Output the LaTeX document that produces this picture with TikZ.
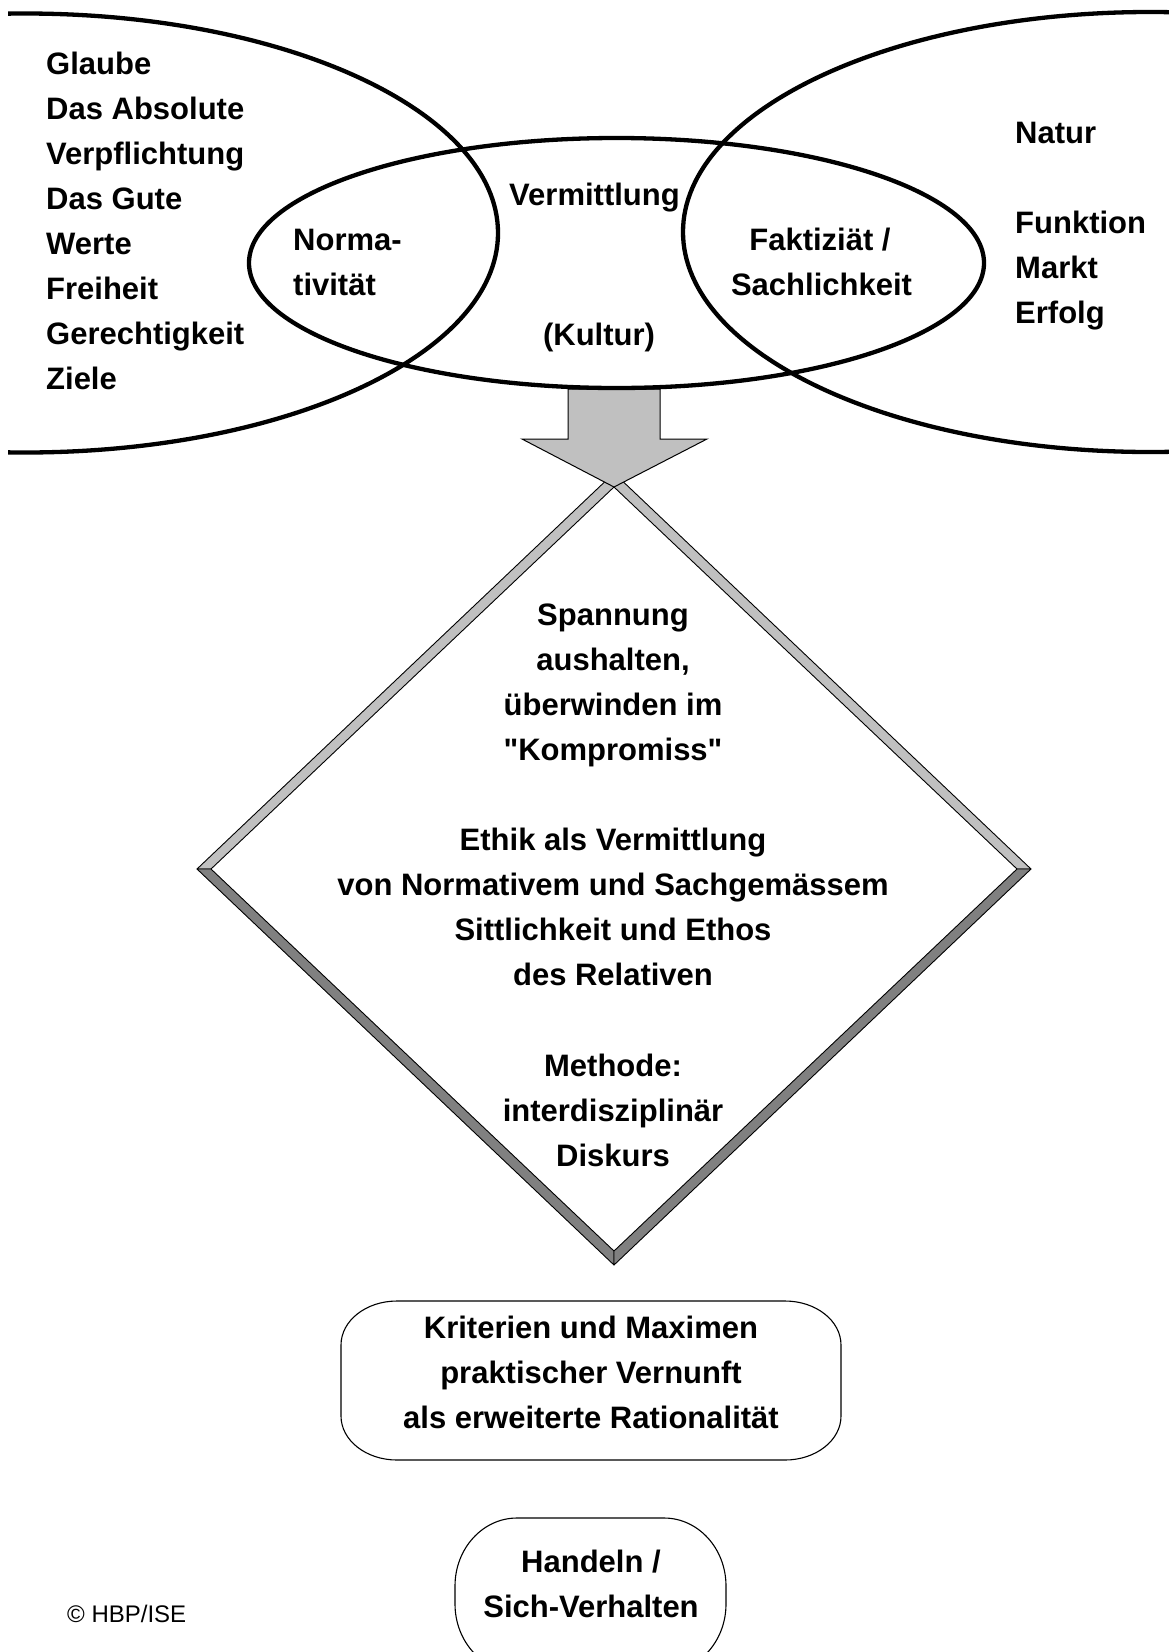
\documentclass[tikz,border=0pt]{standalone}
\usepackage{fontspec}
\setmainfont{Liberation Sans}[Ligatures=TeXOff]
\definecolor{lgray}{HTML}{C0C0C0}
\definecolor{dgray}{HTML}{808080}
\begin{document}
\begin{tikzpicture}[x=1pt,y=-1pt,
  lbl/.style={inner sep=0pt, font=\bfseries\fontsize{31}{45}\selectfont},
  lblL/.style={lbl, anchor=base west},
  lblC/.style={lbl, anchor=base},
  band/.style={draw=black, line width=0.9pt, line join=round},
  ring/.style={draw=black, line width=4.3pt},
  roundbox/.style={draw=black, line width=1.1pt},
  arrowshape/.style={fill=lgray, draw=black, line width=1pt, line join=miter}]
\useasboundingbox (0,0) rectangle (1169,1652);
\fill[white] (0,0) rectangle (1169,1652);

% bevelled diamond
\coordinate (dT) at (614,473);
\coordinate (dL) at (197,869);
\coordinate (dR) at (1031,869);
\coordinate (dB) at (614,1265);
\coordinate (iT) at (614,487);
\coordinate (iL) at (211,869);
\coordinate (iR) at (1017,869);
\coordinate (iB) at (614,1251);
\filldraw[band, fill=lgray] (dT) -- (dL) -- (iL) -- (iT) -- cycle;
\filldraw[band, fill=lgray] (dT) -- (dR) -- (iR) -- (iT) -- cycle;
\filldraw[band, fill=dgray] (dL) -- (dB) -- (iB) -- (iL) -- cycle;
\filldraw[band, fill=dgray] (dR) -- (dB) -- (iB) -- (iR) -- cycle;

% block arrow
\filldraw[arrowshape] (568,389) -- (660,389) -- (660,439) -- (707,439) -- (614,487)
  -- (522,439) -- (568,439) -- cycle;

% ellipses
\begin{scope}
  \clip (8,0) rectangle (1169,480);
  \draw[ring] (25,233) ellipse [x radius=473pt, y radius=219.5pt];
  \draw[ring] (1150,232) ellipse [x radius=467pt, y radius=220pt];
\end{scope}
\draw[ring] (616.5,263) ellipse [x radius=367.5pt, y radius=125pt];

% left list
\node[lblL] (g1) at (46,74) {Glaube};
\node[lblL] (g2) at (46,119.1) {Das Absolute};
\node[lblL] (g3) at (46,164.2) {Verpflichtung};
\node[lblL] (g4) at (46,209.3) {Das Gute};
\node[lblL] (g5) at (46,254.4) {Werte};
\node[lblL] (g6) at (46,299.5) {Freiheit};
\node[lblL] (g7) at (46,344.6) {Gerechtigkeit};
\node[lblL] (g8) at (46,389.7) {Ziele};

% inner ellipse texts
\node[lblL] (n1) at (293,250) {Norma-};
\node[lblL] (n2) at (293,295) {tivität};
\node[lblC] (v1) at (594.5,205) {Vermittlung};
\node[lblC] (v2) at (599,345) {(Kultur)};
\node[lblC] (f1) at (820,250) {Faktiziät /};
\node[lblC] (f2) at (821.5,295) {Sachlichkeit};

% right list
\node[lblL] (r1) at (1015,143) {Natur};
\node[lblL] (r2) at (1015,233) {Funktion};
\node[lblL] (r3) at (1015,278) {Markt};
\node[lblL] (r4) at (1015,323) {Erfolg};

% diamond text
\node[lblC] (d1) at (613,625) {Spannung};
\node[lblC] (d2) at (613,670.1) {aushalten,};
\node[lblC] (d3) at (613,715.2) {überwinden im};
\node[lblC] (d4) at (613,760.3) {"Kompromiss"};
\node[lblC] (d5) at (613,850.5) {Ethik als Vermittlung};
\node[lblC] (d6) at (613,895.6) {von Normativem und Sachgemässem};
\node[lblC] (d7) at (613,940.7) {Sittlichkeit und Ethos};
\node[lblC] (d8) at (613,985.8) {des Relativen};
\node[lblC] (d9) at (613,1076) {Methode:};
\node[lblC] (d10) at (613,1121.1) {interdisziplinär};
\node[lblC] (d11) at (613,1166.2) {Diskurs};

% Kriterien box
\draw[roundbox] (397,1301) -- (785,1301)
  arc[start angle=90, end angle=0, x radius=56pt, y radius=44pt] -- (841,1416)
  arc[start angle=0, end angle=-90, x radius=56pt, y radius=44pt] -- (397,1460)
  arc[start angle=270, end angle=180, x radius=56pt, y radius=44pt] -- (341,1345)
  arc[start angle=180, end angle=90, x radius=56pt, y radius=44pt] -- cycle;
\node[lblC] (k1) at (591,1338) {Kriterien und Maximen};
\node[lblC] (k2) at (591,1383) {praktischer Vernunft};
\node[lblC] (k3) at (591,1428) {als erweiterte Rationalität};

% Handeln box
\begin{scope}
  \clip (0,0) rectangle (1169,1652);
  \draw[roundbox] (517,1518) -- (664,1518)
    arc[start angle=90, end angle=0, x radius=62pt, y radius=68pt] -- (726,1604)
    arc[start angle=0, end angle=-90, x radius=62pt, y radius=68pt] -- (517,1672)
    arc[start angle=270, end angle=180, x radius=62pt, y radius=68pt] -- (455,1586)
    arc[start angle=180, end angle=90, x radius=62pt, y radius=68pt] -- cycle;
\end{scope}
\node[lblC] (h1) at (591,1572) {Handeln /};
\node[lblC] (h2) at (591,1617) {Sich-Verhalten};

% copyright
\node[inner sep=0pt, anchor=base west, font=\fontsize{24}{28}\selectfont] (copy) at (67,1622) {© HBP/ISE};
\end{tikzpicture}
\end{document}
